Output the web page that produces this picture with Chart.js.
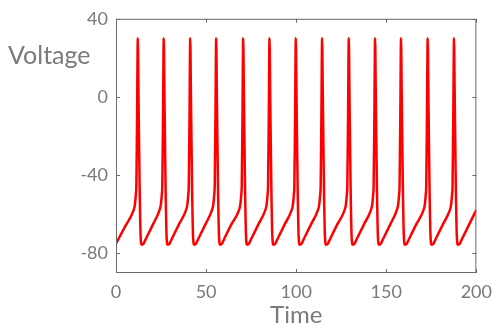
<!DOCTYPE html>
<html>
<head>
<meta charset="utf-8">
<script src="https://cdn.jsdelivr.net/npm/chart.js@4.4.1/dist/chart.umd.min.js"></script>
<style>
  html, body { margin: 0; padding: 0; background: #fff; }
  #wrap { width: 500px; height: 334px; }
</style>
</head>
<body>
<div id="wrap"><canvas id="c" width="500" height="334"></canvas></div>
<script>
// Membrane voltage trace (time, voltage) of a regularly spiking neuron
const time = [
  0, 5, 9.5, 10.5, 11.0, 11.3, 11.7, 12.1, 12.5, 13.1, 13.7, 14.3, 15.3, 16.6, 20.6,
  23.9, 24.9, 25.4, 25.7, 26.1, 26.5, 26.9, 27.5, 28.1, 28.7, 29.7, 31.0, 35.0,
  38.6, 39.6, 40.1, 40.4, 40.8, 41.2, 41.6, 42.2, 42.8, 43.4, 44.4, 45.7, 49.7,
  53.0, 54.0, 54.5, 54.8, 55.2, 55.6, 56.0, 56.6, 57.2, 57.8, 58.8, 60.1, 64.1,
  68.0, 69.0, 69.5, 69.8, 70.2, 70.6, 71.0, 71.6, 72.2, 72.8, 73.8, 75.1, 79.1,
  82.6, 83.6, 84.1, 84.4, 84.8, 85.2, 85.6, 86.2, 86.8, 87.4, 88.4, 89.7, 93.7,
  97.2, 98.2, 98.7, 99.0, 99.4, 99.8, 100.2, 100.8, 101.4, 102.0, 103.0, 104.3, 108.3,
  111.8, 112.8, 113.3, 113.6, 114.0, 114.4, 114.8, 115.4, 116.0, 116.6, 117.6, 118.9, 122.9,
  126.6, 127.6, 128.1, 128.4, 128.8, 129.2, 129.6, 130.2, 130.8, 131.4, 132.4, 133.7, 137.7,
  141.2, 142.2, 142.7, 143.0, 143.4, 143.8, 144.2, 144.8, 145.4, 146.0, 147.0, 148.3, 152.3,
  155.6, 156.6, 157.1, 157.4, 157.8, 158.2, 158.6, 159.2, 159.8, 160.4, 161.4, 162.7, 166.7,
  170.4, 171.4, 171.9, 172.2, 172.6, 173.0, 173.4, 174.0, 174.6, 175.2, 176.2, 177.5, 181.5,
  185.0, 186.0, 186.5, 186.8, 187.2, 187.6, 188.0, 188.6, 189.2, 189.8, 190.8, 192.1, 196.1,
  200
];
const voltage = [
  -75, -66.3, -58.5, -55, -50, -45, -10, 30, 0, -45, -72, -75.5, -75, -72.5, -65,
  -58.5, -55, -50, -45, -10, 30, 0, -45, -72, -75.5, -75, -72.5, -65,
  -58.5, -55, -50, -45, -10, 30, 0, -45, -72, -75.5, -75, -72.5, -65,
  -58.5, -55, -50, -45, -10, 30, 0, -45, -72, -75.5, -75, -72.5, -65,
  -58.5, -55, -50, -45, -10, 30, 0, -45, -72, -75.5, -75, -72.5, -65,
  -58.5, -55, -50, -45, -10, 30, 0, -45, -72, -75.5, -75, -72.5, -65,
  -58.5, -55, -50, -45, -10, 30, 0, -45, -72, -75.5, -75, -72.5, -65,
  -58.5, -55, -50, -45, -10, 30, 0, -45, -72, -75.5, -75, -72.5, -65,
  -58.5, -55, -50, -45, -10, 30, 0, -45, -72, -75.5, -75, -72.5, -65,
  -58.5, -55, -50, -45, -10, 30, 0, -45, -72, -75.5, -75, -72.5, -65,
  -58.5, -55, -50, -45, -10, 30, 0, -45, -72, -75.5, -75, -72.5, -65,
  -58.5, -55, -50, -45, -10, 30, 0, -45, -72, -75.5, -75, -72.5, -65,
  -58.5, -55, -50, -45, -10, 30, 0, -45, -72, -75.5, -75, -72.5, -65,
  -57.7
];
const xTicks = [0, 50, 100, 150, 200];
const yTicks = [-80, -40, 0, 40];

const GRAY = '#7a7a7a';
const FONT = 'Lato, "Open Sans", sans-serif';

// Box frame, inward tick marks and the horizontal y label
const framePlugin = {
  id: 'frame',
  afterDraw(chart) {
    const { ctx, chartArea: a, scales } = chart;
    ctx.save();
    ctx.strokeStyle = '#6a6a6a';
    ctx.lineWidth = 1;
    ctx.strokeRect(a.left + 0.5, a.top + 0.5, a.right - a.left - 1, a.bottom - a.top - 1);
    ctx.beginPath();
    xTicks.forEach(v => {
      const px = Math.round(scales.x.getPixelForValue(v)) + 0.5;
      ctx.moveTo(px, a.bottom); ctx.lineTo(px, a.bottom - 4);
      ctx.moveTo(px, a.top); ctx.lineTo(px, a.top + 4);
    });
    yTicks.forEach(v => {
      const py = Math.round(scales.y.getPixelForValue(v)) + 0.5;
      ctx.moveTo(a.left, py); ctx.lineTo(a.left + 4, py);
      ctx.moveTo(a.right, py); ctx.lineTo(a.right - 4, py);
    });
    ctx.stroke();
    ctx.fillStyle = GRAY;
    ctx.font = '25px ' + FONT;
    ctx.textAlign = 'left';
    ctx.textBaseline = 'alphabetic';
    ctx.fillText('Voltage', 8, 64);
    ctx.restore();
  }
};

new Chart(document.getElementById('c'), {
  type: 'line',
  data: {
    datasets: [{
      data: time.map((t, i) => ({ x: t, y: voltage[i] })),
      borderColor: '#ff0000',
      borderWidth: 2.5,
      pointRadius: 0,
      cubicInterpolationMode: 'monotone',
      fill: false
    }]
  },
  options: {
    responsive: false,
    animation: false,
    devicePixelRatio: 1,
    layout: { padding: { top: 16, right: 22, left: 0, bottom: 0 } },
    plugins: { legend: { display: false }, tooltip: { enabled: false } },
    scales: {
      x: {
        type: 'linear',
        min: 0, max: 200,
        afterBuildTicks: s => { s.ticks = xTicks.map(v => ({ value: v })); },
        afterFit: s => { s.height = 61; },
        grid: { display: false, drawTicks: false },
        border: { display: false },
        ticks: { color: GRAY, font: { family: FONT, size: 18 }, padding: 8, maxRotation: 0 },
        title: { display: true, text: 'Time', color: GRAY, font: { family: FONT, size: 24 }, padding: { top: 0, bottom: 4 } }
      },
      y: {
        type: 'linear',
        min: -90, max: 40,
        afterBuildTicks: s => { s.ticks = yTicks.map(v => ({ value: v })); },
        afterFit: s => { s.width = 116; },
        grid: { display: false, drawTicks: false },
        border: { display: false },
        ticks: { color: GRAY, font: { family: FONT, size: 18 }, padding: 8 }
      }
    }
  },
  plugins: [framePlugin]
});
</script>
</body>
</html>
